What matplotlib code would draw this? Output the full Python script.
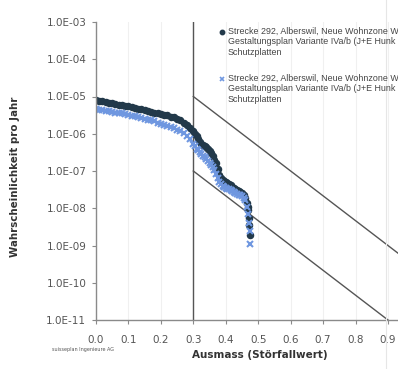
import matplotlib
matplotlib.use("Agg")
import matplotlib.pyplot as plt
from matplotlib.ticker import FixedLocator, FuncFormatter
from matplotlib.lines import Line2D
import numpy as np

# Ausmass (Störfallwert) und Wahrscheinlichkeit pro Jahr
x_dunkel = [0.00, 0.01, 0.02, 0.03, 0.04, 0.05, 0.06, 0.07, 0.08, 0.09,
            0.10, 0.11, 0.12, 0.13, 0.14, 0.15, 0.16, 0.17, 0.18, 0.19,
            0.20, 0.21, 0.22, 0.23, 0.24, 0.25, 0.26, 0.27, 0.28, 0.29,
            0.30, 0.305, 0.31, 0.315, 0.32, 0.325, 0.33, 0.335, 0.34, 0.345,
            0.35, 0.355, 0.36, 0.365, 0.37, 0.375, 0.38, 0.385, 0.39, 0.395,
            0.40, 0.405, 0.41, 0.415, 0.42, 0.425, 0.43, 0.435, 0.44, 0.445,
            0.45, 0.455, 0.46, 0.465, 0.468, 0.47, 0.472, 0.473, 0.474]
p_dunkel = [8.1e-6, 7.8e-6, 7.6e-6, 7.2e-6, 6.9e-6, 6.6e-6, 6.3e-6, 6.0e-6, 5.75e-6, 5.6e-6,
            5.4e-6, 5.1e-6, 4.9e-6, 4.7e-6, 4.5e-6, 4.3e-6, 4.1e-6, 3.9e-6, 3.7e-6, 3.55e-6,
            3.4e-6, 3.25e-6, 3.1e-6, 2.9e-6, 2.75e-6, 2.5e-6, 2.3e-6, 2.0e-6, 1.74e-6, 1.45e-6,
            1.2e-6, 1.0e-6, 8.7e-7, 7.2e-7, 6.0e-7, 5.4e-7, 5.0e-7, 4.7e-7, 4.5e-7, 4.0e-7,
            3.5e-7, 3.0e-7, 2.5e-7, 2.0e-7, 1.6e-7, 1.1e-7, 7.9e-8, 6.5e-8, 5.6e-8, 5.3e-8,
            5.0e-8, 4.7e-8, 4.4e-8, 4.1e-8, 3.8e-8, 3.5e-8, 3.3e-8, 3.1e-8, 2.95e-8, 2.7e-8,
            2.5e-8, 2.2e-8, 1.9e-8, 1.4e-8, 1.1e-8, 8.9e-9, 5.6e-9, 3.5e-9, 1.9e-9]

x_hell = [0.00, 0.01, 0.02, 0.03, 0.04, 0.05, 0.06, 0.07, 0.08, 0.09,
          0.10, 0.11, 0.12, 0.13, 0.14, 0.15, 0.16, 0.17, 0.18, 0.19,
          0.20, 0.21, 0.22, 0.23, 0.24, 0.25, 0.26, 0.27, 0.28, 0.29,
          0.30, 0.305, 0.31, 0.315, 0.32, 0.325, 0.33, 0.335, 0.34, 0.345,
          0.35, 0.355, 0.36, 0.365, 0.37, 0.375, 0.38, 0.385, 0.39, 0.395,
          0.40, 0.405, 0.41, 0.415, 0.42, 0.425, 0.43, 0.435, 0.44, 0.445,
          0.45, 0.455, 0.46, 0.465, 0.47, 0.472, 0.474, 0.475]
p_hell = [4.6e-6, 4.45e-6, 4.3e-6, 4.15e-6, 4.0e-6, 3.85e-6, 3.7e-6, 3.6e-6, 3.5e-6, 3.35e-6,
          3.2e-6, 3.05e-6, 2.95e-6, 2.8e-6, 2.7e-6, 2.55e-6, 2.4e-6, 2.3e-6, 2.15e-6, 2.0e-6,
          1.86e-6, 1.72e-6, 1.6e-6, 1.5e-6, 1.4e-6, 1.28e-6, 1.15e-6, 1.02e-6, 8.9e-7, 7.1e-7,
          5.2e-7, 4.6e-7, 4.0e-7, 3.6e-7, 3.2e-7, 2.9e-7, 2.6e-7, 2.35e-7, 2.1e-7, 1.9e-7,
          1.66e-7, 1.45e-7, 1.26e-7, 1.05e-7, 8.3e-8, 6.3e-8, 5.0e-8, 4.4e-8, 4.0e-8, 3.7e-8,
          3.5e-8, 3.35e-8, 3.2e-8, 3.05e-8, 2.9e-8, 2.75e-8, 2.6e-8, 2.45e-8, 2.3e-8, 2.2e-8,
          2.1e-8, 1.9e-8, 1.66e-8, 1.1e-8, 7.1e-9, 4.0e-9, 2.5e-9, 1.1e-9]

# Kriterienlinien (Störfallverordnung)
x_grenze = [0.3, 1.0]
p_obere = [1e-5, 10 ** (-5 - 0.7 / 0.6 * 4)]
p_untere = [1e-7, 10 ** (-7 - 0.7 / 0.6 * 4)]

x_ticks = [0.0, 0.1, 0.2, 0.3, 0.4, 0.5, 0.6, 0.7, 0.8, 0.9]

label_1 = "Strecke 292, Alberswil, Neue Wohnzone W\nGestaltungsplan Variante IVa/b (J+E Hunk\nSchutzplatten"
label_2 = label_1

farbe_dunkel = "#22394a"
farbe_hell = "#6f97e0"

fig = plt.figure(figsize=(3.98, 3.69), dpi=100)
ax = fig.add_axes([96 / 398, 1 - 320 / 369, 324.4 / 398, 298 / 369])

grau = "#8a8a8a"
ax.set_yscale("log")
ax.set_xlim(0, 1.0)
ax.set_ylim(1e-11, 1e-3)

ax.grid(True, axis="x", color="#f0f0f0", linewidth=0.8)
ax.set_axisbelow(True)

ax.axvline(0.3, color="#555555", linewidth=1.0)
ax.plot(x_grenze, p_obere, color="#555555", linewidth=1.0)
ax.plot(x_grenze, p_untere, color="#555555", linewidth=1.0)

ax.plot(x_dunkel, p_dunkel, linestyle="none", marker="o", markersize=4.4,
        color=farbe_dunkel)
ax.plot(x_hell, p_hell, linestyle="none", marker="x", markersize=4.0,
        markeredgewidth=1.5, color=farbe_hell)

ax.xaxis.set_major_locator(FixedLocator(x_ticks))
ax.xaxis.set_major_formatter(FuncFormatter(lambda v, p: f"{v:.1f}"))
ax.yaxis.set_major_locator(FixedLocator([10.0 ** k for k in range(-11, -2)]))
ax.yaxis.set_major_formatter(FuncFormatter(lambda v, p: f"1.0E-{int(round(-np.log10(v))):02d}"))
ax.yaxis.set_minor_locator(FixedLocator([]))

for s in ["top", "right"]:
    ax.spines[s].set_visible(False)
for s in ["left", "bottom"]:
    ax.spines[s].set_color(grau)
    ax.spines[s].set_linewidth(1.0)

ax.tick_params(axis="both", colors=grau, labelcolor="#555555", labelsize=7.5, length=3, width=0.8)
ax.tick_params(axis="x", pad=8)
ax.tick_params(axis="y", pad=4)

ax.set_ylabel("Wahrscheinlichkeit pro Jahr", fontsize=7.4, fontweight="bold", color="#333333")
ax.yaxis.set_label_coords(-0.234, 0.48)
ax.set_xlabel("Ausmass (Störfallwert)", fontsize=7.5, fontweight="bold", color="#333333")
ax.xaxis.set_label_coords(0.506, -0.10)

# Legende (Marker neben der ersten Zeile, wie in Excel)
for y_px, label, mk, col, mew in [(32, label_1, "o", farbe_dunkel, 1.0),
                                  (79, label_2, "x", farbe_hell, 1.2)]:
    fig.add_artist(Line2D([222.5 / 398], [1 - y_px / 369], marker=mk, markersize=3.2,
                          markeredgewidth=mew, color=col, linestyle="none"))
    fig.text(228 / 398, 1 - (y_px - 5) / 369, label, fontsize=6.4, family="Liberation Sans",
             color="#444444", va="top", ha="left", linespacing=1.2)

fig.text(52 / 398, 1 - 350 / 369, "suisseplan Ingenieure AG", fontsize=3.5,
         color="#555555", va="center")

# schwache Seitenkante rechts
fig.add_artist(Line2D([386 / 398, 386 / 398], [0, 1], color="#e6e6e6", linewidth=0.8))

fig.savefig("out.png", dpi=100)
